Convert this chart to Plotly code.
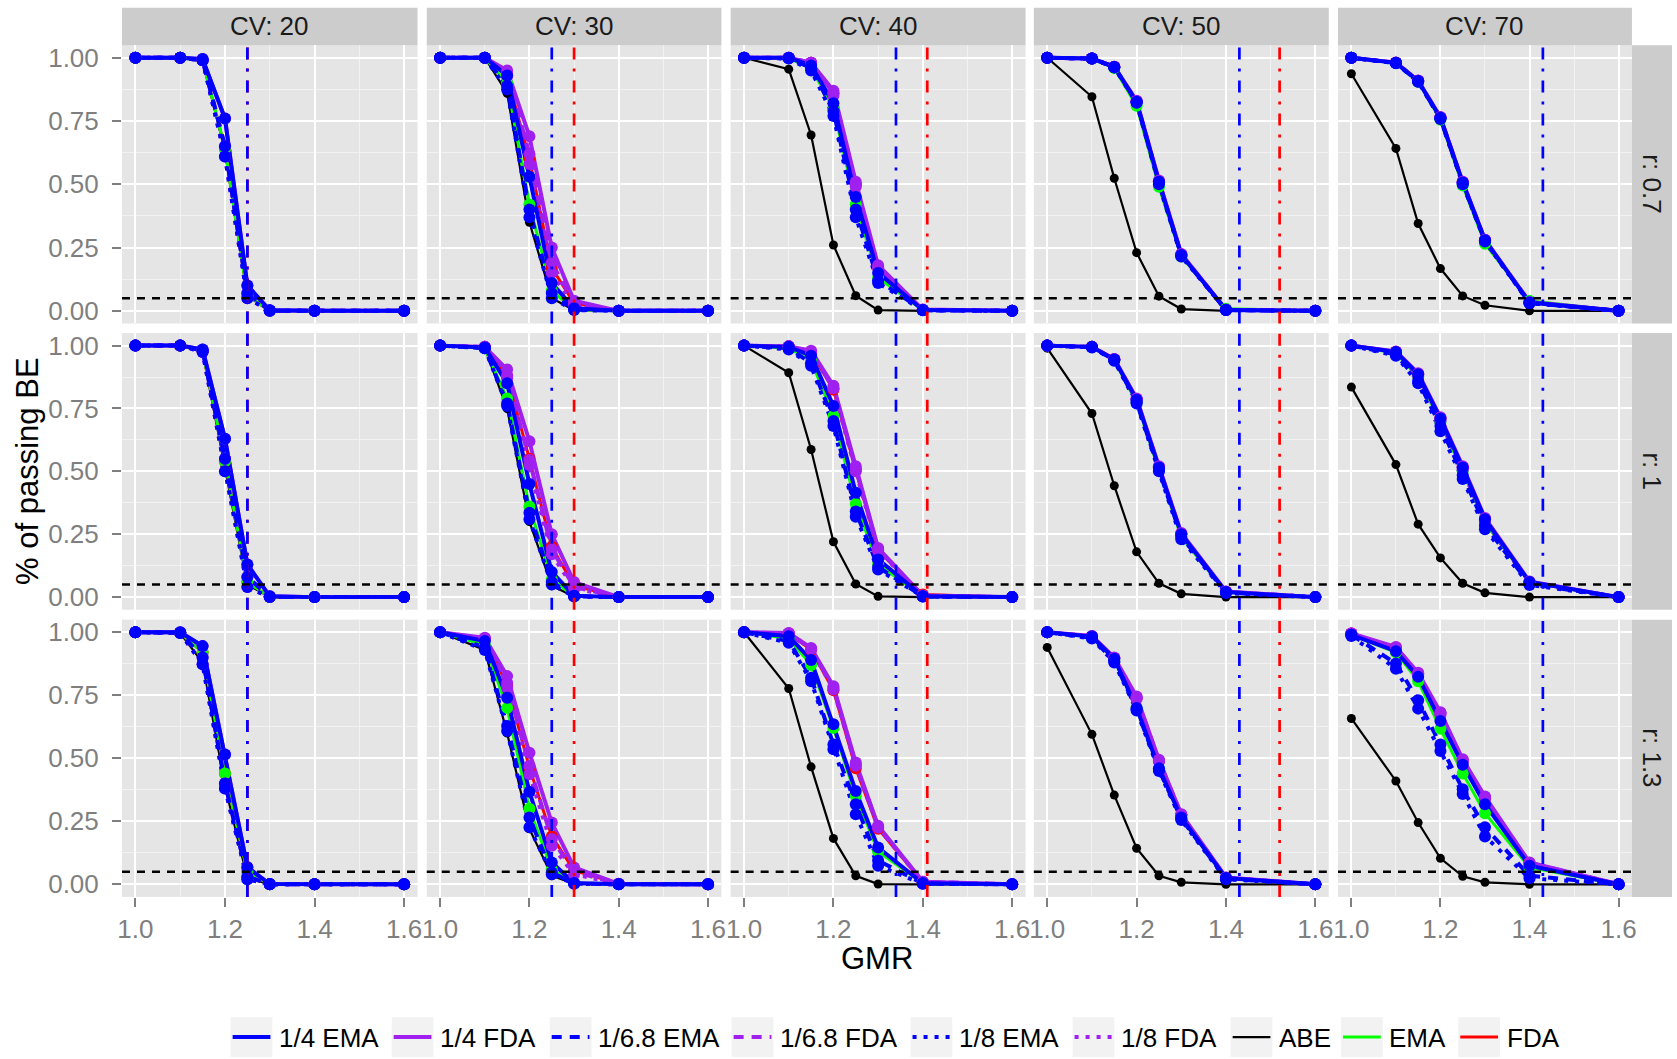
import plotly.graph_objects as go

# ---------------- data ----------------
GMR = [1.0, 1.1, 1.15, 1.2, 1.25, 1.3, 1.4, 1.6]
CV_LEVELS = ["20", "30", "40", "50", "70"]
R_LEVELS = ["0.7", "1", "1.3"]
EMA_LIMIT = [1.25, 1.25, 1.34, 1.43, 1.43]
FDA_LIMIT = [1.25, 1.30, 1.41, 1.52, None]
BE_LEVEL = 0.05
X_TICKS = [1.0, 1.2, 1.4, 1.6]
X_TICK_TEXT = ["1.0", "1.2", "1.4", "1.6"]
Y_TICKS = [0.0, 0.25, 0.5, 0.75, 1.0]
Y_TICK_TEXT = ["0.00", "0.25", "0.50", "0.75", "1.00"]
LEGEND_ORDER = ["1/4 EMA", "1/4 FDA", "1/6.8 EMA", "1/6.8 FDA", "1/8 EMA",
                "1/8 FDA", "ABE", "EMA", "FDA"]

# each list: 15 panels, row-major (r 0.7: CV 20..70, r 1: CV 20..70, r 1.3: CV 20..70)
ema_1_4 = [
    [1, 1, 0.995, 0.76, 0.10, 0.002, 0, 0],
    [1, 1, 0.93, 0.53, 0.11, 0.01, 0, 0],
    [1, 1, 0.97, 0.82, 0.45, 0.15, 0.003, 0],
    [1, 0.997, 0.964, 0.826, 0.51, 0.221, 0.003, 0],
    [1, 0.98, 0.908, 0.763, 0.507, 0.279, 0.033, 0],
    [1, 1, 0.985, 0.63, 0.13, 0.003, 0, 0],
    [1, 0.993, 0.85, 0.45, 0.10, 0.005, 0, 0],
    [1, 0.995, 0.96, 0.76, 0.415, 0.15, 0.003, 0],
    [1, 0.995, 0.945, 0.785, 0.515, 0.25, 0.02, 0],
    [1, 0.975, 0.886, 0.71, 0.515, 0.31, 0.06, 0],
    [1, 1, 0.945, 0.515, 0.068, 0.001, 0, 0],
    [1, 0.965, 0.74, 0.367, 0.087, 0.005, 0, 0],
    [1, 0.984, 0.89, 0.635, 0.37, 0.146, 0.004, 0],
    [1, 0.983, 0.895, 0.70, 0.46, 0.265, 0.025, 0],
    [0.99, 0.925, 0.823, 0.648, 0.474, 0.318, 0.074, 0],
]
fda_1_4 = [
    [1, 1, 0.995, 0.76, 0.10, 0.002, 0, 0],
    [1, 1, 0.95, 0.69, 0.25, 0.04, 0, 0],
    [1, 1, 0.98, 0.87, 0.51, 0.18, 0.005, 0],
    [1, 0.997, 0.965, 0.83, 0.515, 0.225, 0.004, 0],
    [1, 0.981, 0.91, 0.766, 0.51, 0.281, 0.035, 0],
    [1, 1, 0.985, 0.63, 0.13, 0.003, 0, 0],
    [1, 0.995, 0.905, 0.62, 0.25, 0.06, 0, 0],
    [1, 0.997, 0.98, 0.84, 0.52, 0.195, 0.006, 0],
    [1, 0.995, 0.947, 0.79, 0.52, 0.255, 0.022, 0],
    [1, 0.977, 0.89, 0.715, 0.52, 0.315, 0.062, 0],
    [1, 1, 0.945, 0.515, 0.068, 0.001, 0, 0],
    [1, 0.978, 0.826, 0.522, 0.245, 0.067, 0.002, 0],
    [1, 0.997, 0.938, 0.786, 0.483, 0.232, 0.01, 0],
    [1, 0.985, 0.90, 0.745, 0.494, 0.278, 0.027, 0],
    [0.995, 0.942, 0.839, 0.683, 0.496, 0.348, 0.087, 0],
]
ema_1_68 = [
    [1, 1, 0.99, 0.65, 0.07, 0.001, 0, 0],
    [1, 1, 0.89, 0.40, 0.07, 0.005, 0, 0],
    [1, 0.998, 0.96, 0.79, 0.40, 0.12, 0.002, 0],
    [1, 0.997, 0.963, 0.824, 0.505, 0.218, 0.003, 0],
    [1, 0.979, 0.906, 0.76, 0.503, 0.276, 0.031, 0],
    [1, 1, 0.98, 0.55, 0.08, 0.001, 0, 0],
    [1, 0.99, 0.77, 0.335, 0.06, 0.003, 0, 0],
    [1, 0.99, 0.93, 0.70, 0.34, 0.12, 0.002, 0],
    [1, 0.994, 0.943, 0.775, 0.505, 0.24, 0.018, 0],
    [1, 0.965, 0.86, 0.68, 0.485, 0.285, 0.052, 0],
    [1, 0.998, 0.90, 0.40, 0.03, 0, 0, 0],
    [1, 0.94, 0.628, 0.265, 0.047, 0.003, 0, 0],
    [1, 0.965, 0.82, 0.555, 0.318, 0.094, 0.003, 0],
    [1, 0.978, 0.885, 0.695, 0.455, 0.26, 0.022, 0],
    [0.99, 0.876, 0.73, 0.555, 0.377, 0.226, 0.034, 0],
]
fda_1_68 = [
    [1, 1, 0.99, 0.65, 0.07, 0.001, 0, 0],
    [1, 1, 0.94, 0.62, 0.19, 0.03, 0, 0],
    [1, 1, 0.98, 0.86, 0.50, 0.17, 0.004, 0],
    [1, 0.997, 0.965, 0.828, 0.512, 0.223, 0.004, 0],
    [1, 0.98, 0.909, 0.764, 0.508, 0.28, 0.034, 0],
    [1, 1, 0.98, 0.55, 0.08, 0.001, 0, 0],
    [1, 0.995, 0.88, 0.545, 0.19, 0.04, 0, 0],
    [1, 0.997, 0.975, 0.83, 0.51, 0.19, 0.005, 0],
    [1, 0.995, 0.946, 0.787, 0.518, 0.252, 0.021, 0],
    [1, 0.975, 0.885, 0.705, 0.51, 0.305, 0.058, 0],
    [1, 0.998, 0.90, 0.40, 0.03, 0, 0, 0],
    [1, 0.975, 0.80, 0.47, 0.18, 0.05, 0.001, 0],
    [1, 0.995, 0.935, 0.78, 0.475, 0.228, 0.01, 0],
    [1, 0.984, 0.898, 0.74, 0.49, 0.276, 0.026, 0],
    [0.995, 0.938, 0.835, 0.678, 0.49, 0.343, 0.085, 0],
]
ema_1_8 = [
    [1, 1, 0.99, 0.61, 0.05, 0, 0, 0],
    [1, 1, 0.875, 0.37, 0.05, 0.003, 0, 0],
    [1, 0.997, 0.95, 0.77, 0.37, 0.11, 0.002, 0],
    [1, 0.997, 0.962, 0.822, 0.50, 0.215, 0.003, 0],
    [1, 0.978, 0.905, 0.758, 0.50, 0.274, 0.03, 0],
    [1, 1, 0.975, 0.50, 0.04, 0, 0, 0],
    [1, 0.99, 0.76, 0.31, 0.05, 0.002, 0, 0],
    [1, 0.985, 0.92, 0.68, 0.32, 0.11, 0.002, 0],
    [1, 0.993, 0.94, 0.77, 0.50, 0.23, 0.016, 0],
    [1, 0.96, 0.85, 0.66, 0.47, 0.27, 0.048, 0],
    [1, 0.997, 0.873, 0.38, 0.02, 0, 0, 0],
    [1, 0.93, 0.608, 0.226, 0.04, 0.002, 0, 0],
    [1, 0.958, 0.806, 0.536, 0.278, 0.074, 0.002, 0],
    [1, 0.975, 0.88, 0.69, 0.45, 0.255, 0.02, 0],
    [0.985, 0.855, 0.697, 0.529, 0.358, 0.19, 0.024, 0],
]
fda_1_8 = [
    [1, 1, 0.99, 0.61, 0.05, 0, 0, 0],
    [1, 1, 0.93, 0.58, 0.15, 0.02, 0, 0],
    [1, 1, 0.98, 0.85, 0.49, 0.17, 0.004, 0],
    [1, 0.997, 0.964, 0.826, 0.51, 0.222, 0.004, 0],
    [1, 0.98, 0.908, 0.763, 0.507, 0.279, 0.033, 0],
    [1, 1, 0.975, 0.50, 0.04, 0, 0, 0],
    [1, 0.995, 0.87, 0.525, 0.17, 0.035, 0, 0],
    [1, 0.997, 0.975, 0.83, 0.50, 0.185, 0.005, 0],
    [1, 0.995, 0.945, 0.785, 0.515, 0.25, 0.02, 0],
    [1, 0.973, 0.88, 0.70, 0.505, 0.30, 0.056, 0],
    [1, 0.997, 0.873, 0.38, 0.02, 0, 0, 0],
    [1, 0.972, 0.78, 0.437, 0.153, 0.04, 0.001, 0],
    [1, 0.995, 0.933, 0.773, 0.47, 0.225, 0.009, 0],
    [1, 0.983, 0.895, 0.735, 0.488, 0.274, 0.025, 0],
    [0.995, 0.935, 0.83, 0.672, 0.486, 0.338, 0.082, 0],
]
abe = [
    [1, 1, 0.99, 0.63, 0.06, 0, 0, 0],
    [1, 1, 0.86, 0.35, 0.05, 0.003, 0, 0],
    [1, 0.955, 0.695, 0.26, 0.06, 0.003, 0, 0],
    [1, 0.846, 0.524, 0.23, 0.058, 0.007, 0, 0],
    [0.937, 0.642, 0.345, 0.167, 0.059, 0.022, 0, 0],
    [1, 1, 0.975, 0.52, 0.05, 0, 0, 0],
    [1, 0.99, 0.75, 0.30, 0.045, 0.002, 0, 0],
    [1, 0.892, 0.587, 0.22, 0.052, 0.003, 0, 0],
    [0.99, 0.73, 0.443, 0.18, 0.055, 0.013, 0, 0],
    [0.835, 0.527, 0.29, 0.156, 0.055, 0.017, 0, 0],
    [1, 0.997, 0.88, 0.39, 0.025, 0, 0, 0],
    [1, 0.93, 0.60, 0.22, 0.034, 0.002, 0, 0],
    [1, 0.777, 0.466, 0.182, 0.034, 0.001, 0, 0],
    [0.94, 0.595, 0.354, 0.143, 0.034, 0.008, 0, 0],
    [0.658, 0.41, 0.245, 0.103, 0.032, 0.008, 0, 0],
]
ema = [
    [1, 1, 0.99, 0.64, 0.06, 0, 0, 0],
    [1, 1, 0.90, 0.42, 0.08, 0.005, 0, 0],
    [1, 0.998, 0.96, 0.80, 0.42, 0.13, 0.003, 0],
    [1, 0.996, 0.96, 0.81, 0.49, 0.215, 0.008, 0],
    [1, 0.979, 0.905, 0.755, 0.495, 0.265, 0.04, 0],
    [1, 1, 0.98, 0.54, 0.06, 0, 0, 0],
    [1, 0.99, 0.79, 0.36, 0.07, 0.004, 0, 0],
    [1, 0.99, 0.94, 0.72, 0.37, 0.13, 0.003, 0],
    [1, 0.994, 0.942, 0.775, 0.505, 0.238, 0.02, 0],
    [1, 0.97, 0.875, 0.695, 0.50, 0.295, 0.06, 0],
    [1, 0.998, 0.92, 0.44, 0.05, 0, 0, 0],
    [1, 0.95, 0.70, 0.30, 0.06, 0.004, 0, 0],
    [1, 0.975, 0.87, 0.62, 0.35, 0.13, 0.004, 0],
    [1, 0.98, 0.89, 0.70, 0.46, 0.262, 0.024, 0],
    [0.99, 0.92, 0.806, 0.617, 0.44, 0.282, 0.067, 0],
]
fda = [
    [1, 1, 0.99, 0.64, 0.06, 0, 0, 0],
    [1, 1, 0.93, 0.60, 0.17, 0.03, 0, 0],
    [1, 1, 0.98, 0.86, 0.50, 0.17, 0.004, 0],
    [1, 0.997, 0.965, 0.828, 0.512, 0.223, 0.004, 0],
    [1, 0.98, 0.909, 0.765, 0.509, 0.28, 0.034, 0],
    [1, 1, 0.98, 0.54, 0.06, 0, 0, 0],
    [1, 0.995, 0.88, 0.55, 0.20, 0.045, 0, 0],
    [1, 0.997, 0.975, 0.825, 0.505, 0.185, 0.01, 0],
    [1, 0.995, 0.946, 0.787, 0.517, 0.252, 0.021, 0],
    [1, 0.976, 0.888, 0.712, 0.517, 0.312, 0.061, 0],
    [1, 0.998, 0.92, 0.44, 0.05, 0, 0, 0],
    [1, 0.975, 0.79, 0.463, 0.19, 0.055, 0.002, 0],
    [1, 0.995, 0.93, 0.77, 0.46, 0.22, 0.008, 0],
    [1, 0.984, 0.898, 0.74, 0.49, 0.276, 0.026, 0],
    [0.995, 0.94, 0.836, 0.68, 0.493, 0.345, 0.086, 0],
]

# ---------------- styling ----------------
BLUE, PURPLE, GREEN, RED, BLACK = "#0000FF", "#A020F0", "#00FF00", "#FF0000", "#000000"
DASH = "10px,8px"
DOT = "4px,7px"
# drawing order (bottom -> top): name, data, colour, dash, line width, marker size
SERIES = [
    ("ABE", abe, BLACK, "solid", 2.2, 9),
    ("FDA", fda, RED, "solid", 3.0, 12),
    ("EMA", ema, GREEN, "solid", 3.0, 12),
    ("1/8 FDA", fda_1_8, PURPLE, DOT, 4.0, 12),
    ("1/6.8 FDA", fda_1_68, PURPLE, DASH, 4.0, 12),
    ("1/4 FDA", fda_1_4, PURPLE, "solid", 4.0, 12),
    ("1/8 EMA", ema_1_8, BLUE, DOT, 4.0, 12),
    ("1/6.8 EMA", ema_1_68, BLUE, DASH, 4.0, 12),
    ("1/4 EMA", ema_1_4, BLUE, "solid", 4.0, 12),
]
STYLE = {s[0]: s for s in SERIES}

W, H = 1677, 1059
COL_PX = [(117.7, 415.0), (424.3, 720.7), (730.0, 1026.7), (1035.0, 1331.7), (1341.0, 1636.7)]
ROW_PX = [(43.3, 322.7), (332.3, 610.0), (620.0, 898.3)]
STRIP_TOP = (5.7, 43.3)
STRIP_RIGHT = (1636.7, 1677.0)
LEGEND_KEY_X = [227, 389, 548, 731, 911, 1074, 1233, 1344, 1462]
LEGEND_KEY_Y = (1019, 1059)
LEGEND_KEY_W = 42
FONT = "Liberation Sans, Arial, sans-serif"
TICK_GREY = "#7F7F7F"
TXT_SIZE = 26
TITLE_SIZE = 31


def px_x(p):
    return p / W


def px_y(p):
    return 1 - p / H


fig = go.Figure()
shapes = []
annotations = []

n_rows, n_cols = len(R_LEVELS), len(CV_LEVELS)
layout_axes = {}
for r in range(n_rows):
    for c in range(n_cols):
        k = r * n_cols + c + 1
        xs = "" if k == 1 else str(k)
        bottom = r == n_rows - 1
        left = c == 0
        layout_axes["xaxis" + xs] = dict(
            domain=[px_x(COL_PX[c][0]), px_x(COL_PX[c][1])],
            anchor="y" + xs, range=[0.97, 1.63],
            tickvals=X_TICKS, ticktext=X_TICK_TEXT,
            showticklabels=bottom, ticks="outside" if bottom else "",
            ticklen=9, tickwidth=2, tickcolor=TICK_GREY, ticklabelstandoff=0,
            tickfont=dict(family=FONT, size=TXT_SIZE, color=TICK_GREY),
            showgrid=True, gridcolor="white", gridwidth=2.2,
            minor=dict(tickvals=[1.1, 1.3, 1.5], showgrid=True,
                       gridcolor="#F2F2F2", gridwidth=1.1, ticks=""),
            zeroline=False, showline=False, fixedrange=True,
        )
        layout_axes["yaxis" + xs] = dict(
            domain=[px_y(ROW_PX[r][1]), px_y(ROW_PX[r][0])],
            anchor="x" + xs, range=[-0.05, 1.05],
            tickvals=Y_TICKS, ticktext=Y_TICK_TEXT,
            showticklabels=left, ticks="outside" if left else "",
            ticklen=9, tickwidth=2, tickcolor=TICK_GREY, ticklabelstandoff=8,
            tickfont=dict(family=FONT, size=TXT_SIZE, color=TICK_GREY),
            showgrid=True, gridcolor="white", gridwidth=2.2,
            minor=dict(tickvals=[0.125, 0.375, 0.625, 0.875], showgrid=True,
                       gridcolor="#F2F2F2", gridwidth=1.1, ticks=""),
            zeroline=False, showline=False, fixedrange=True,
        )

        xa, ya = "x" + xs, "y" + xs
        idx = r * n_cols + c
        for name, data, col, dash, lw, ms in SERIES:
            fig.add_trace(go.Scatter(
                x=GMR, y=data[idx], mode="lines", xaxis=xa, yaxis=ya,
                line=dict(color=col, width=lw, dash=dash),
                name=name, legendgroup=name, showlegend=False, hoverinfo="skip",
            ))
        for name, data, col, dash, lw, ms in SERIES:
            fig.add_trace(go.Scatter(
                x=GMR, y=data[idx], mode="markers", xaxis=xa, yaxis=ya,
                marker=dict(color=col, size=ms, line=dict(width=0)),
                name=name, legendgroup=name, showlegend=False,
            ))
        shapes.append(dict(type="line", xref=xa + " domain", yref=ya,
                           x0=0, x1=1, y0=BE_LEVEL, y1=BE_LEVEL,
                           line=dict(color="black", width=2.5, dash="8px,7px")))
        if FDA_LIMIT[c] is not None:
            shapes.append(dict(type="line", xref=xa, yref=ya + " domain",
                               x0=FDA_LIMIT[c], x1=FDA_LIMIT[c], y0=0, y1=1,
                               line=dict(color=RED, width=2.7, dash="12px,9px,3px,9px")))
        shapes.append(dict(type="line", xref=xa, yref=ya + " domain",
                           x0=EMA_LIMIT[c], x1=EMA_LIMIT[c], y0=0, y1=1,
                           line=dict(color=BLUE, width=2.7, dash="12px,9px,3px,9px")))

# facet strips
for c, cv in enumerate(CV_LEVELS):
    shapes.append(dict(type="rect", xref="paper", yref="paper", layer="below",
                       x0=px_x(COL_PX[c][0]), x1=px_x(COL_PX[c][1]),
                       y0=px_y(STRIP_TOP[1]), y1=px_y(STRIP_TOP[0]),
                       fillcolor="#CCCCCC", line=dict(width=0)))
    annotations.append(dict(
        xref="paper", yref="paper",
        x=px_x((COL_PX[c][0] + COL_PX[c][1]) / 2),
        y=px_y((STRIP_TOP[0] + STRIP_TOP[1]) / 2),
        text="CV: " + cv, showarrow=False, xanchor="center", yanchor="middle",
        font=dict(family=FONT, size=TXT_SIZE, color="#1A1A1A")))
for r, rv in enumerate(R_LEVELS):
    shapes.append(dict(type="rect", xref="paper", yref="paper", layer="below",
                       x0=px_x(STRIP_RIGHT[0]), x1=px_x(STRIP_RIGHT[1]),
                       y0=px_y(ROW_PX[r][1]), y1=px_y(ROW_PX[r][0]),
                       fillcolor="#CCCCCC", line=dict(width=0)))
    annotations.append(dict(
        xref="paper", yref="paper",
        x=px_x((STRIP_RIGHT[0] + STRIP_RIGHT[1]) / 2),
        y=px_y((ROW_PX[r][0] + ROW_PX[r][1]) / 2),
        text="r: " + rv, showarrow=False, textangle=90,
        xanchor="center", yanchor="middle",
        font=dict(family=FONT, size=TXT_SIZE, color="#1A1A1A")))

# axis titles
annotations.append(dict(
    xref="paper", yref="paper",
    x=px_x((COL_PX[0][0] + COL_PX[-1][1]) / 2), y=px_y(960),
    text="GMR", showarrow=False, xanchor="center", yanchor="middle",
    font=dict(family=FONT, size=TITLE_SIZE, color="black")))
annotations.append(dict(
    xref="paper", yref="paper",
    x=px_x(22), y=px_y((ROW_PX[0][0] + ROW_PX[-1][1]) / 2),
    text="% of passing BE", showarrow=False, textangle=-90,
    xanchor="center", yanchor="middle",
    font=dict(family=FONT, size=TITLE_SIZE, color="black")))

# legend (ggplot-style keys with grey background)
ky0, ky1 = LEGEND_KEY_Y
kyc = (ky0 + ky1) / 2
for name, kx in zip(LEGEND_ORDER, LEGEND_KEY_X):
    _, _, col, dash, lw, _ = STYLE[name]
    shapes.append(dict(type="rect", xref="paper", yref="paper",
                       x0=px_x(kx), x1=px_x(kx + LEGEND_KEY_W),
                       y0=px_y(ky1), y1=px_y(ky0),
                       fillcolor="#F2F2F2", line=dict(width=0)))
    shapes.append(dict(type="line", xref="paper", yref="paper",
                       x0=px_x(kx + 2), x1=px_x(kx + LEGEND_KEY_W - 2),
                       y0=px_y(kyc), y1=px_y(kyc),
                       line=dict(color=col, width=lw, dash=dash)))
    annotations.append(dict(
        xref="paper", yref="paper", x=px_x(kx + LEGEND_KEY_W + 4.5), y=px_y(kyc + 1),
        text=name, showarrow=False, xanchor="left", yanchor="middle",
        font=dict(family=FONT, size=TXT_SIZE, color="black")))

fig.update_layout(
    width=W, height=H, autosize=False,
    margin=dict(l=0, r=0, t=0, b=0, pad=0),
    paper_bgcolor="white", plot_bgcolor="#E5E5E5",
    font=dict(family=FONT, size=TXT_SIZE, color="black"),
    annotations=annotations, shapes=shapes,
    showlegend=False,
    **layout_axes,
)

fig.write_html(
    "out.html",
    config={"displayModeBar": False},
    post_script="document.body.style.margin='0';"
                "document.documentElement.style.overflow='hidden';",
)
